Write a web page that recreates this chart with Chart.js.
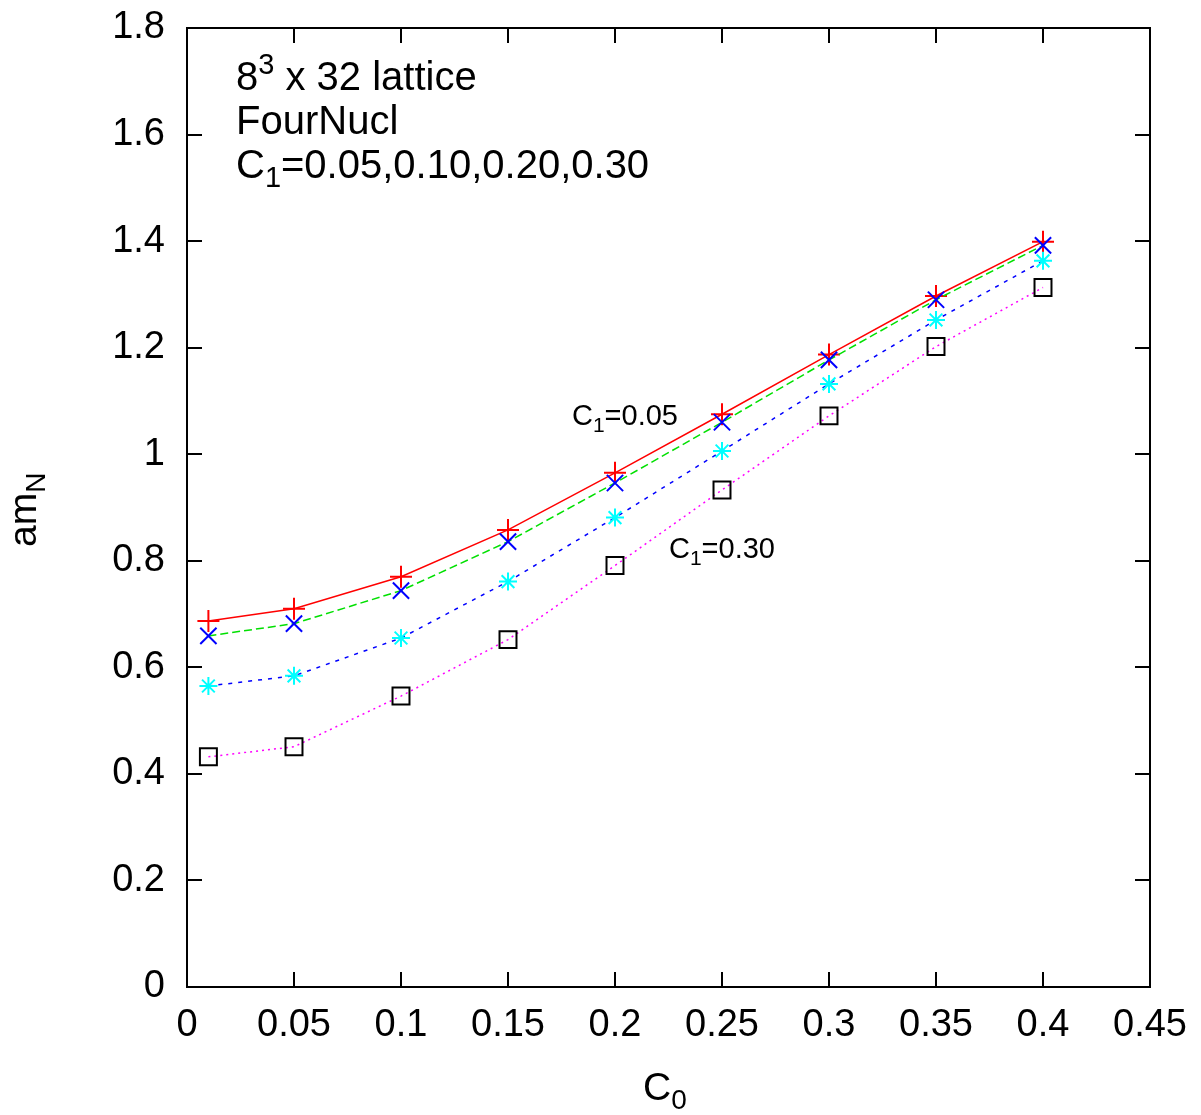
<!DOCTYPE html>
<html>
<head>
<meta charset="utf-8">
<script src="https://cdn.jsdelivr.net/npm/chart.js@4/dist/chart.umd.min.js"></script>
<style>
  html, body { margin: 0; padding: 0; background: #fff; }
  #wrap { width: 1201px; height: 1115px; position: relative; }
</style>
</head>
<body>
<div id="wrap"><canvas id="chart" width="1201" height="1115"></canvas></div>
<script>
"use strict";

// C0 values (x axis)
const C0 = [0.01, 0.05, 0.10, 0.15, 0.20, 0.25, 0.30, 0.35, 0.40];

// am_N for each C1
const C1_005 = [0.687, 0.710, 0.770, 0.858, 0.965, 1.075, 1.187, 1.297, 1.399];
const C1_010 = [0.659, 0.682, 0.744, 0.836, 0.946, 1.060, 1.177, 1.290, 1.392];
const C1_020 = [0.565, 0.584, 0.655, 0.761, 0.881, 1.006, 1.132, 1.252, 1.363];
const C1_030 = [0.432, 0.451, 0.546, 0.652, 0.791, 0.933, 1.072, 1.202, 1.313];

const X_TICKS = [0, 0.05, 0.1, 0.15, 0.2, 0.25, 0.3, 0.35, 0.4, 0.45];
const Y_TICKS = [0, 0.2, 0.4, 0.6, 0.8, 1, 1.2, 1.4, 1.6, 1.8];

const FONT = "'Liberation Sans', Arial, sans-serif";

function pts(ys) {
  return ys.map((y, i) => ({ x: C0[i], y }));
}

function fmt(v) {
  return String(Number(v.toFixed(2)));
}

// draws text with sub/superscript pieces: [[text, size, dy], ...]
function richText(ctx, x, y, parts) {
  let cx = x;
  parts.forEach(([t, size, dy]) => {
    ctx.font = `${size}px ${FONT}`;
    ctx.fillText(t, cx, y + dy);
    cx += ctx.measureText(t).width;
  });
}

const framePlugin = {
  id: "frame",
  afterDatasetsDraw(chart) {
    const { ctx, chartArea: a, scales } = chart;
    ctx.save();
    ctx.strokeStyle = "#000";
    ctx.lineWidth = 2;
    ctx.strokeRect(a.left, a.top, a.right - a.left, a.bottom - a.top);
    const len = 15;
    ctx.beginPath();
    X_TICKS.forEach(v => {
      const px = Math.round(scales.x.getPixelForValue(v));
      ctx.moveTo(px, a.bottom); ctx.lineTo(px, a.bottom - len);
      ctx.moveTo(px, a.top); ctx.lineTo(px, a.top + len);
    });
    Y_TICKS.forEach(v => {
      const py = Math.round(scales.y.getPixelForValue(v));
      ctx.moveTo(a.left, py); ctx.lineTo(a.left + len, py);
      ctx.moveTo(a.right, py); ctx.lineTo(a.right - len, py);
    });
    ctx.stroke();

    ctx.fillStyle = "#000";
    ctx.textBaseline = "alphabetic";
    ctx.textAlign = "left";

    // key text, top left
    richText(ctx, 236, 90, [["8", 40, 0], ["3", 29, -16], [" x 32 lattice", 40, 0]]);
    richText(ctx, 236, 134, [["FourNucl", 40, 0]]);
    richText(ctx, 236, 178, [["C", 40, 0], ["1", 29, 9], ["=0.05,0.10,0.20,0.30", 40, 0]]);

    // curve labels
    richText(ctx, 572, 425, [["C", 29, 0], ["1", 21, 7], ["=0.05", 29, 0]]);
    richText(ctx, 669, 558, [["C", 29, 0], ["1", 21, 7], ["=0.30", 29, 0]]);

    // x axis title
    richText(ctx, 643, 1100, [["C", 39, 0], ["0", 28, 9]]);

    // y axis title
    ctx.translate(36, 547);
    ctx.rotate(-Math.PI / 2);
    richText(ctx, 0, 0, [["am", 39, 0], ["N", 28, 9]]);
    ctx.restore();
  },
};

function series(data, line, point, style, radius, dash, order) {
  return {
    data: pts(data),
    showLine: true,
    borderColor: line,
    borderWidth: 1.5,
    borderDash: dash,
    pointBorderColor: point,
    pointBackgroundColor: "rgba(0,0,0,0)",
    pointBorderWidth: 2,
    pointStyle: style,
    pointRadius: radius,
    pointHoverRadius: radius,
    tension: 0,
    order,
  };
}

new Chart(document.getElementById("chart"), {
  type: "scatter",
  data: {
    datasets: [
      series(C1_005, "#ff0000", "#ff0000", "cross", 11, [], 4),
      series(C1_010, "#00e000", "#0000ff", "crossRot", 11.5, [8, 4], 3),
      series(C1_020, "#0000ff", "#00ffff", "star", 9, [4, 6], 2),
      series(C1_030, "#ff00ff", "#000000", "rect", 12, [2, 4], 1),
    ],
  },
  options: {
    responsive: false,
    animation: false,
    events: [],
    layout: { padding: { left: 0, right: 51, top: 28, bottom: 0 } },
    plugins: { legend: { display: false }, tooltip: { enabled: false } },
    scales: {
      x: {
        type: "linear",
        min: 0, max: 0.45,
        afterBuildTicks: s => { s.ticks = X_TICKS.map(v => ({ value: v })); },
        afterFit: s => { s.height = 128; s.paddingLeft = 0; s.paddingRight = 0; },
        grid: { display: false, drawTicks: false },
        border: { display: false },
        ticks: {
          color: "#000",
          font: { family: FONT, size: 38 },
          padding: 16,
          maxRotation: 0,
          autoSkip: false,
          callback: v => fmt(v),
        },
      },
      y: {
        type: "linear",
        min: 0, max: 1.8,
        afterBuildTicks: s => { s.ticks = Y_TICKS.map(v => ({ value: v })); },
        afterFit: s => { s.width = 187; s.paddingTop = 0; s.paddingBottom = 0; },
        grid: { display: false, drawTicks: false },
        border: { display: false },
        ticks: {
          color: "#000",
          font: { family: FONT, size: 38 },
          padding: 22,
          autoSkip: false,
          callback: v => fmt(v),
        },
      },
    },
  },
  plugins: [framePlugin],
});
</script>
</body>
</html>
